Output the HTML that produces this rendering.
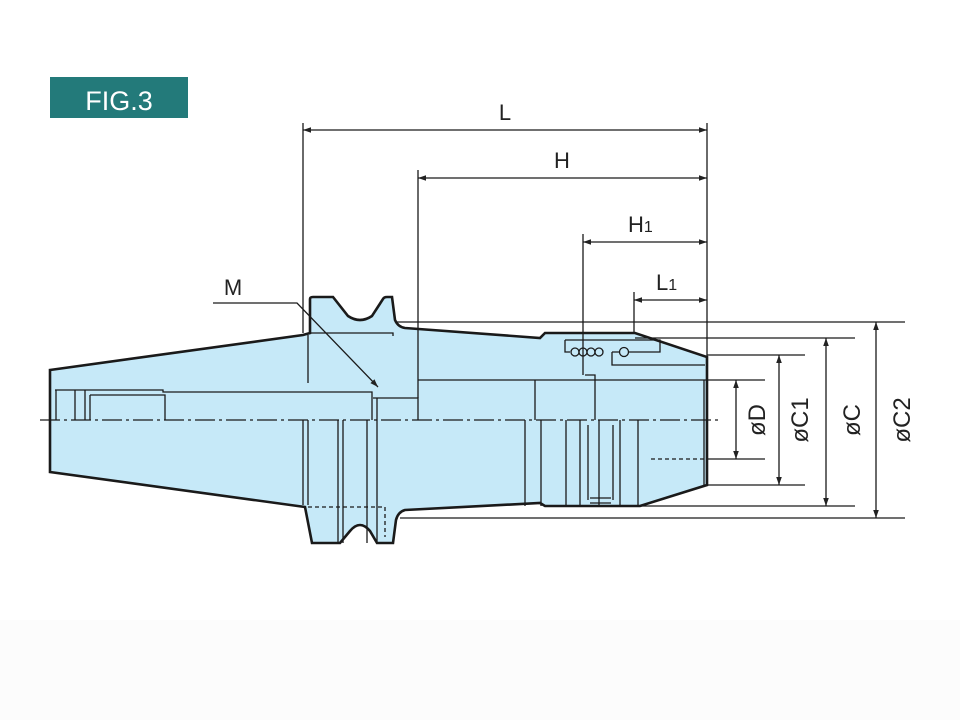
<!DOCTYPE html>
<html><head><meta charset="utf-8"><style>
html,body{margin:0;padding:0;background:#fff;width:960px;height:720px;overflow:hidden}
svg{display:block}
text{font-family:"Liberation Sans",sans-serif;fill:#222}
</style></head><body>
<svg width="960" height="720" viewBox="0 0 960 720">
<defs>
<marker id="a" viewBox="0 0 10 10" refX="10" refY="5" markerWidth="11" markerHeight="8" orient="auto-start-reverse" markerUnits="userSpaceOnUse"><path d="M0,1.5 L10,5 L0,8.5 z" fill="#222"/></marker>
</defs>
<rect x="0" y="620" width="960" height="100" fill="#fcfcfc"/>
<rect x="50" y="77" width="138" height="41" fill="#237a7a"/>
<text x="119" y="110" font-size="27" text-anchor="middle" style="fill:#fff">FIG.3</text>

<g stroke="#1a1a1a" fill="none" stroke-width="1.3">
<path d="M50,370 L303,335 L310,333 L310,299 Q310,297 313,297 L333,297 L348,316 Q360,324 372,316 L383,299 Q384,297 387,297 L392,297 L395,320 Q398,327 405,328 L540,338 L545,333 L635,333 L707,357 L707,485 L640,506 L545,506 L540,503 L405,510 Q398,512 396,520 L393,543 L377,543 L370,531 Q360,519 350,531 L340,543 L312,543 L305,507 L50,472 Z" fill="#c6e9f8" stroke-width="2.6"/>
<path d="M55,390 H163 V392 H372 V420 M56,390 V420 M75,390 V420 M85,390 V420 M90,395 V420 M90,395 H165 V420"/>
<path d="M308,335 V383 M310,333 H393 V336 M373,398 H418 V420 M377,398 V420 M303,420 V505 M308,420 V505 M338,420 V543 M343,420 V543 M367,420 V543 M377,420 V543"/>
<path d="M308,507 H385 V537" stroke-dasharray="4,3"/>
<path d="M418,380 H707 M535,380 V420 M525,420 V506 M541,420 V506 M566,420 V506 M580,420 V506 M599,420 V506 M620,420 V506 M638,420 V506 M704,380 V485"/>
<path d="M585,375 H595 V420 M588,425 V500 M613,425 V500 M590,498 H611 M590,503 H611"/>
<path d="M565,340 H660 V352 H612 M565,340 V352 H570 M612,352 V365 H705"/>
<circle cx="575" cy="352" r="4" fill="#c6e9f8"/><circle cx="583" cy="352" r="4" fill="#c6e9f8"/><circle cx="591" cy="352" r="4" fill="#c6e9f8"/><circle cx="599" cy="352" r="4" fill="#c6e9f8"/><circle cx="624" cy="352" r="4.5" fill="#c6e9f8"/>
<path d="M651,459 H707" stroke-dasharray="4,3"/>
<path d="M40,420 H720" stroke-dasharray="20,4,3,4"/>
<path d="M213,303 H297 L378,387" marker-end="url(#a)"/>
<path d="M303,123 V333 M418,170 V398 M707,123 V357 M583,234 V375 M634,292 V333"/>
<path d="M395,322 H905 M635,338 H855 M707,355 H805 M707,380 H765 M707,459 H765 M707,485 H805 M640,506 H855 M400,518 H905"/>
<path d="M303,130 H707" marker-start="url(#a)" marker-end="url(#a)"/>
<path d="M418,178 H707" marker-start="url(#a)" marker-end="url(#a)"/>
<path d="M583,242 H707" marker-start="url(#a)" marker-end="url(#a)"/>
<path d="M634,300 H707" marker-start="url(#a)" marker-end="url(#a)"/>
<path d="M736,380 V459" marker-start="url(#a)" marker-end="url(#a)"/>
<path d="M779,355 V485" marker-start="url(#a)" marker-end="url(#a)"/>
<path d="M826,338 V506" marker-start="url(#a)" marker-end="url(#a)"/>
<path d="M876,322 V518" marker-start="url(#a)" marker-end="url(#a)"/>
</g>
<text x="505" y="120" font-size="22" text-anchor="middle">L</text>
<text x="562" y="168" font-size="22" text-anchor="middle">H</text>
<text x="628" y="232" font-size="22">H<tspan font-size="16">1</tspan></text>
<text x="656" y="290" font-size="22">L<tspan font-size="16">1</tspan></text>
<text x="233" y="295" font-size="22" text-anchor="middle">M</text>
<text transform="translate(765,420) rotate(-90)" font-size="24" text-anchor="middle">øD</text>
<text transform="translate(808,420) rotate(-90)" font-size="24" text-anchor="middle">øC1</text>
<text transform="translate(860,420) rotate(-90)" font-size="24" text-anchor="middle">øC</text>
<text transform="translate(910,420) rotate(-90)" font-size="24" text-anchor="middle">øC2</text>
</svg>
</body></html>
